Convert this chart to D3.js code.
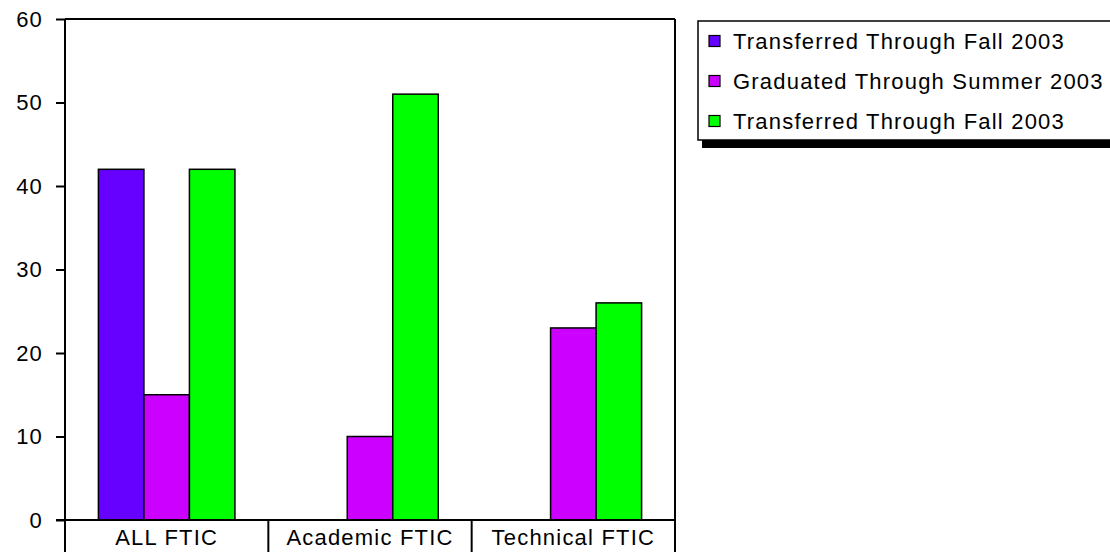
<!DOCTYPE html>
<html>
<head>
<meta charset="utf-8">
<script src="https://cdn.jsdelivr.net/npm/d3@7"></script>
<style>
  html, body { margin: 0; padding: 0; background: #fff; }
  svg { display: block; }
  text { font-family: "Liberation Sans", Arial, sans-serif; fill: #000; }
</style>
</head>
<body>
<svg id="chart" width="1110" height="552"></svg>
<script>
// ---- data ----
const categories = ["ALL FTIC", "Academic FTIC", "Technical FTIC"];
const seriesNames = ["Transferred Through Fall 2003", "Graduated Through Summer 2003", "Transferred Through Fall 2003"];
const seriesTransferred1 = [42, null, null];
const seriesGraduated = [15, 10, 23];
const seriesTransferred2 = [42, 51, 26];
const yTicks = [0, 10, 20, 30, 40, 50, 60];
const seriesColors = ["#6600FF", "#CC00FF", "#00FF00"];

const seriesValues = [seriesTransferred1, seriesGraduated, seriesTransferred2];

// ---- layout ----
const W = 1110, H = 552;
const plot = { left: 65, right: 675, top: 19, bottom: 520 };
const fontSize = 22, letterSp = 1.2;

const svg = d3.select("#chart");

const x0 = d3.scaleBand().domain(categories).range([plot.left, plot.right]).padding(0);
const x1 = d3.scaleBand().domain(d3.range(seriesValues.length))
  .range([0, x0.bandwidth()]).paddingInner(0).paddingOuter(0.734);
const y = d3.scaleLinear().domain([0, 60]).range([plot.bottom, plot.top]);

// bars
const barData = [];
categories.forEach((c, ci) => {
  seriesValues.forEach((vals, si) => {
    if (vals[ci] != null) barData.push({ c, si, v: vals[ci] });
  });
});
svg.append("g").selectAll("rect").data(barData).join("rect")
  .attr("x", d => x0(d.c) + x1(d.si))
  .attr("y", d => y(d.v))
  .attr("width", x1.bandwidth())
  .attr("height", d => y(0) - y(d.v))
  .attr("fill", d => seriesColors[d.si])
  .attr("stroke", "#000")
  .attr("stroke-width", 1.5);

// y axis
const yAxis = d3.axisLeft(y).tickValues(yTicks).tickSize(9).tickPadding(13).tickFormat(d3.format("d"));
const gy = svg.append("g").attr("transform", `translate(${plot.left},0)`).call(yAxis);
gy.select(".domain").remove();
gy.selectAll(".tick line").attr("stroke", "#000").attr("stroke-width", 2);
gy.selectAll(".tick text")
  .attr("font-size", fontSize)
  .attr("letter-spacing", letterSp)
  .attr("font-family", "Liberation Sans, Arial, sans-serif")
  .attr("fill", "#000");

// frame + x-axis baseline
const frame = svg.append("g").attr("stroke", "#000").attr("stroke-width", 2).attr("fill", "none");
frame.append("line").attr("x1", plot.left).attr("x2", plot.right).attr("y1", plot.top).attr("y2", plot.top);
frame.append("line").attr("x1", plot.left).attr("x2", plot.left).attr("y1", plot.top).attr("y2", H + 5);
frame.append("line").attr("x1", plot.right).attr("x2", plot.right).attr("y1", plot.top).attr("y2", H + 5);
frame.append("line").attr("x1", plot.left - 9).attr("x2", plot.right).attr("y1", y(0)).attr("y2", y(0));

// category table below axis
const xAxis = d3.axisBottom(x0).tickSize(0).tickPadding(0);
const gx = svg.append("g").attr("transform", `translate(0,${y(0)})`).call(xAxis);
gx.select(".domain").remove();
gx.selectAll(".tick text")
  .attr("font-size", fontSize)
  .attr("letter-spacing", letterSp)
  .attr("font-family", "Liberation Sans, Arial, sans-serif")
  .attr("fill", "#000")
  .attr("dy", null)
  .attr("y", 25);
// separators between category cells
svg.append("g").selectAll("line").data(categories.slice(1)).join("line")
  .attr("x1", d => x0(d)).attr("x2", d => x0(d))
  .attr("y1", y(0)).attr("y2", H + 5)
  .attr("stroke", "#000").attr("stroke-width", 2);

// legend
const lg = { x: 698, y: 21, w: 440, h: 119, rowH: 40, firstRow: 20 };
svg.append("rect").attr("x", lg.x + 4).attr("y", lg.y + 6).attr("width", lg.w).attr("height", lg.h + 2)
  .attr("fill", "#000");
svg.append("rect").attr("x", lg.x).attr("y", lg.y).attr("width", lg.w).attr("height", lg.h)
  .attr("fill", "#fff").attr("stroke", "#000").attr("stroke-width", 1.5);
const items = svg.append("g").selectAll("g").data(seriesNames).join("g")
  .attr("transform", (d, i) => `translate(${lg.x}, ${lg.y + lg.firstRow + i * lg.rowH})`);
items.append("rect").attr("x", 11).attr("y", -5.5).attr("width", 11).attr("height", 11)
  .attr("fill", (d, i) => seriesColors[i]).attr("stroke", "#000").attr("stroke-width", 1.2);
items.append("text").attr("x", 35).attr("y", 8)
  .attr("font-size", fontSize).attr("letter-spacing", letterSp)
  .text(d => d);
</script>
</body>
</html>
